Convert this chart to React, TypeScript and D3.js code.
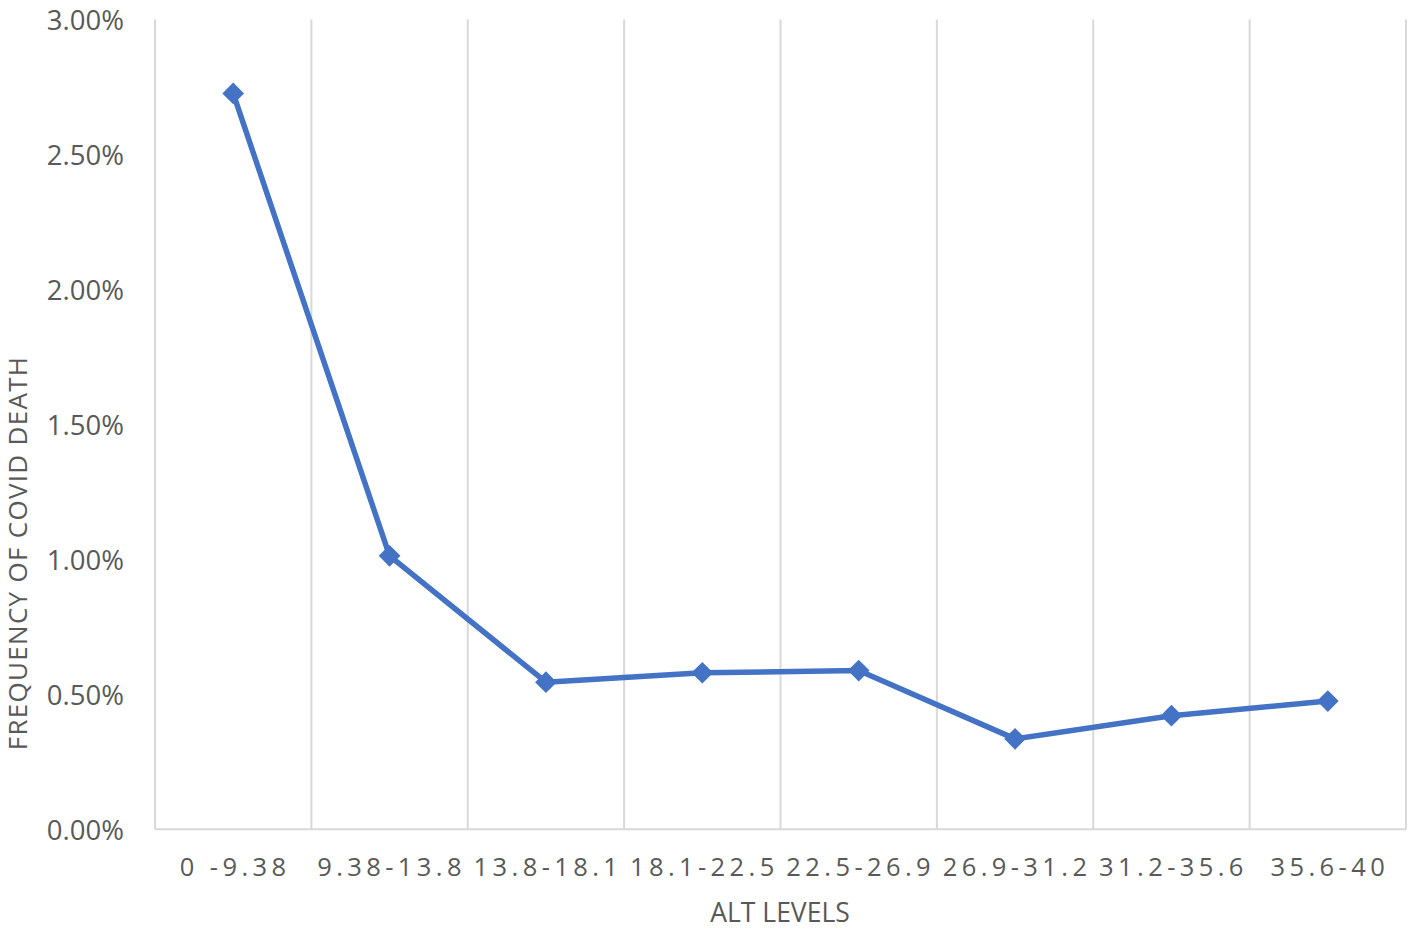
import React from 'react'
import * as d3 from 'd3'

// ALT level bands and frequency of covid death (fraction)
const altLevels = ['0 -9.38', '9.38-13.8', '13.8-18.1', '18.1-22.5', '22.5-26.9', '26.9-31.2', '31.2-35.6', '35.6-40']
const deathFreq = [0.02726, 0.01013, 0.00545, 0.0058, 0.00588, 0.00335, 0.00421, 0.00475]
const yTicks = [0, 0.005, 0.01, 0.015, 0.02, 0.025, 0.03]

const W = 1417
const H = 930
const left = 155
const right = 1406
const top = 19.5
const bottom = 829.3

const blue = '#4472C4'
const grid = '#D9D9D9'
const textCol = '#595959'
const font = '"Open Sans", "Noto Sans", sans-serif'

export default function App() {
    const x = d3.scaleBand().domain(altLevels).range([left, right])
    const y = d3.scaleLinear().domain([0, 0.03]).range([bottom, top])
    const pct = d3.format('.2%')

    const line = d3.line<number>()
        .x((_, i) => x(altLevels[i])! + x.bandwidth() / 2)
        .y((d) => y(d))

    const marker = d3.symbol(d3.symbolSquare, 235)()

    const gridXs = altLevels.map((c) => x(c)!).concat([right])

    return (
        <svg width={W} height={H} style={{ position: 'absolute', left: 0, top: 0, background: '#fff' }}>
            {/* vertical gridlines */}
            {gridXs.map((gx, i) => (
                <line key={i} x1={gx} x2={gx} y1={top} y2={bottom} stroke={grid} strokeWidth={2} />
            ))}
            <line x1={left} x2={right} y1={bottom} y2={bottom} stroke={grid} strokeWidth={2} />

            {/* y tick labels */}
            {yTicks.map((t) => (
                <text key={t} x={124} y={y(t)} textAnchor="end" dominantBaseline="central"
                    fontFamily={font} fontSize={27.5} fill={textCol}>{pct(t)}</text>
            ))}

            {/* x tick labels */}
            {altLevels.map((c) => (
                <text key={c} x={x(c)! + x.bandwidth() / 2 + 2} y={866} textAnchor="middle" dominantBaseline="central"
                    fontFamily={font} fontSize={25.5} letterSpacing={4.4} fill={textCol}>{c}</text>
            ))}

            {/* axis titles */}
            <text x={780} y={912} textAnchor="middle" dominantBaseline="central"
                fontFamily={font} fontSize={26.5} fill={textCol}>ALT LEVELS</text>
            <text transform={`translate(17,${553}) rotate(-90)`} textAnchor="middle" dominantBaseline="central"
                fontFamily={font} fontSize={26} letterSpacing={1.3} fill={textCol}>FREQUENCY OF COVID DEATH</text>

            {/* series */}
            <path d={line(deathFreq)!} fill="none" stroke={blue} strokeWidth={5.5} strokeLinejoin="round" />
            {deathFreq.map((v, i) => (
                <path key={i} d={marker!}
                    transform={`translate(${x(altLevels[i])! + x.bandwidth() / 2},${y(v)}) rotate(45)`}
                    fill={blue} />
            ))}
        </svg>
    )
}
